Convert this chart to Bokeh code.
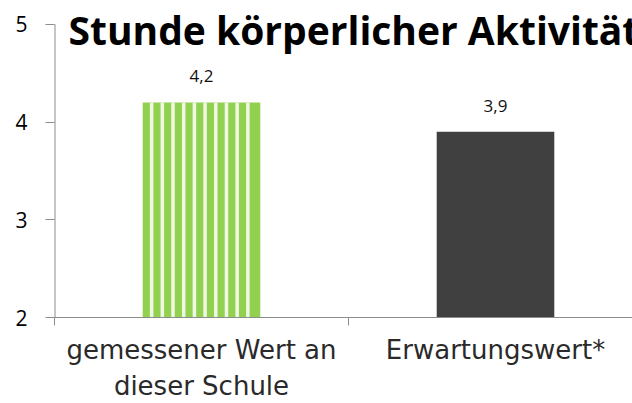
import numpy as np
from bokeh.plotting import figure
from bokeh.models import Range1d, FixedTicker, ColumnDataSource, LabelSet, Label
from bokeh.core.properties import value
from bokeh.embed import file_html
from bokeh.resources import INLINE

categories = ["gemessener Wert an\ndieser Schule", "Erwartungswert*"]
values = [4.2, 3.9]
value_labels = ["4,2", "3,9"]
y_ticks = [2, 3, 4, 5]
title_text = "Stunde körperlicher Aktivität"

BAR_W = 0.40
xs = [i + 0.5 for i in range(len(categories))]
src = ColumnDataSource(dict(x=xs, top=values, lab=value_labels))
src_green = ColumnDataSource(dict(x=xs[:1], top=values[:1]))
src_dark = ColumnDataSource(dict(x=xs[1:], top=values[1:]))

# vertical stripe pattern of the first bar (style only, derived from its extent)
period = BAR_W / 11.0
gap = period * 0.33
left = xs[0] - BAR_W / 2
gap_x = left + (period - gap) + gap / 2 + period * np.arange(10)
src_gap = ColumnDataSource(dict(x=gap_x, top=[values[0]] * len(gap_x)))

# plot area reaches the top edge so the title is not clipped; the top
# tick (5) sits 24px below it, 296px per 3 units
y_end = y_ticks[-1] + 24 * (y_ticks[-1] - y_ticks[0]) / 296

p = figure(width=632, height=403, output_backend="svg", toolbar_location=None,
           x_range=Range1d(0, 1.966), y_range=Range1d(y_ticks[0], y_end),
           min_border_left=54, min_border_right=0, min_border_top=0,
           min_border_bottom=83, outline_line_color=None)
p.xgrid.visible = False
p.ygrid.visible = False
p.title.visible = False

p.vbar(x="x", top="top", bottom=0, width=BAR_W, source=src_green,
       fill_color="#92D050", line_color=None)
p.vbar(x="x", top="top", bottom=0, width=gap, source=src_gap,
       fill_color="#eef8e2", line_color=None)
p.vbar(x="x", top="top", bottom=0, width=BAR_W, source=src_dark,
       fill_color="#404040", line_color=None)

# y axis line only from lowest to highest tick
p.segment(x0=[0], y0=[y_ticks[0]], x1=[0], y1=[y_ticks[-1]],
          line_color="#8c8c8c", line_width=2)

p.add_layout(LabelSet(x="x", y="top", text="lab", source=src, y_offset=20,
                      text_align="center", text_baseline="alphabetic",
                      text_font=value("Open Sans"), text_font_size="17px",
                      text_color="#111111"))

p.add_layout(Label(x=0, y=y_ticks[-1], x_offset=14, y_offset=21, text=title_text,
                   text_font="Open Sans", text_font_style="bold",
                   text_font_size="39px", text_baseline="top",
                   text_color="#000000"))

ax = p.xaxis[0]
ax.ticker = FixedTicker(ticks=xs, minor_ticks=[0, 1, 2])
ax.major_label_overrides = {xs[i]: categories[i] for i in range(len(categories))}
ax.major_tick_line_color = None
ax.major_tick_out = 8
ax.major_tick_in = 0
ax.minor_tick_line_color = "#8c8c8c"
ax.minor_tick_out = 8
ax.minor_tick_in = 0
ax.axis_line_color = "#8c8c8c"
ax.major_label_standoff = 9
ax.major_label_text_font = "DejaVu Sans"
ax.major_label_text_font_size = "26px"
ax.major_label_text_color = "#2a2a2a"

ay = p.yaxis[0]
ay.ticker = FixedTicker(ticks=y_ticks, minor_ticks=[])
ay.major_tick_out = 9
ay.major_tick_in = 0
ay.major_tick_line_color = "#8c8c8c"
ay.axis_line_color = None
ay.major_label_standoff = 18
ay.major_label_text_font = "Open Sans"
ay.major_label_text_font_size = "21px"
ay.major_label_text_color = "#000000"

open("out.html", "w").write(file_html(p, INLINE))
